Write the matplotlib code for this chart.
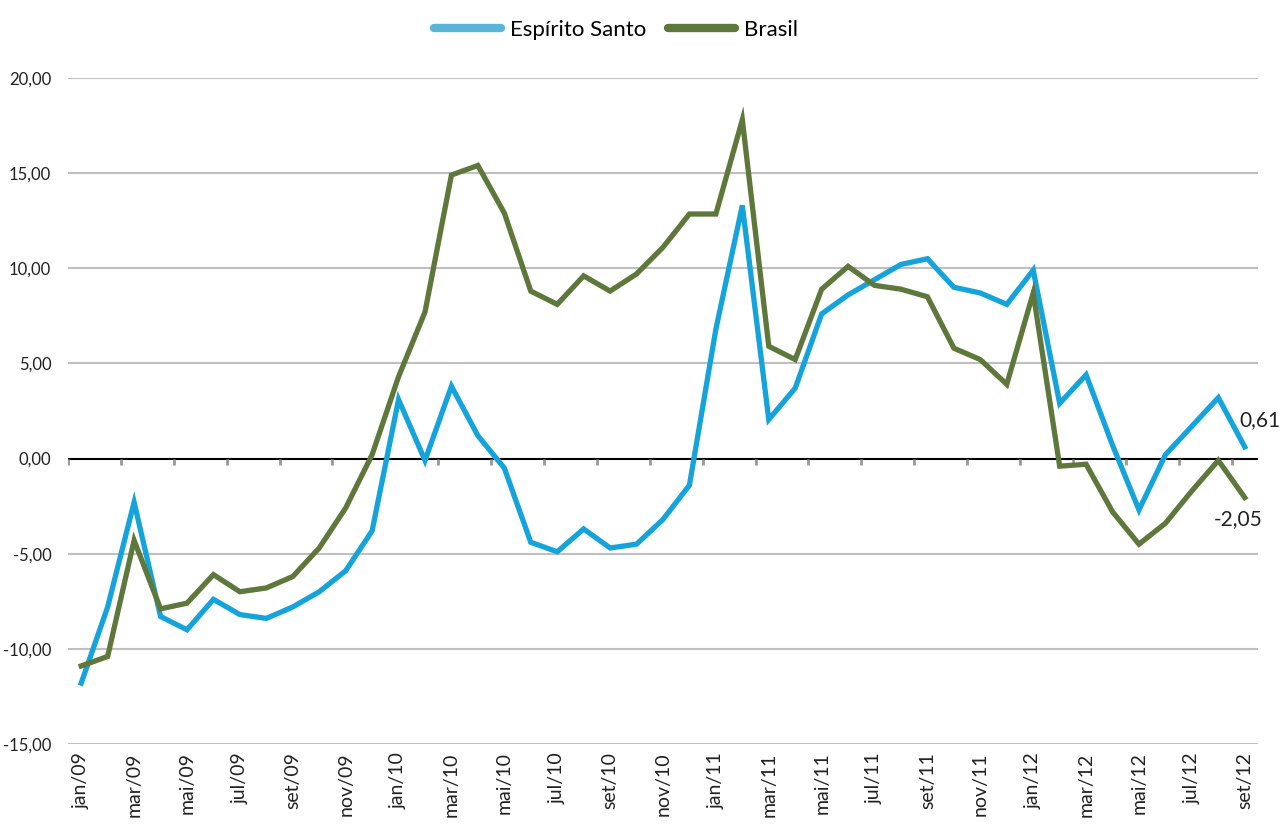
import matplotlib
matplotlib.use("Agg")
import matplotlib.pyplot as plt
import numpy as np

months = ["jan", "fev", "mar", "abr", "mai", "jun", "jul", "ago", "set", "out", "nov", "dez"]
categories = [f"{m}/{y:02d}" for y in (9, 10, 11, 12) for m in months][:45]

espirito_santo = [-11.8, -7.8, -2.3, -8.3, -9.0, -7.4, -8.2, -8.4, -7.8, -7.0, -5.9, -3.8,
                  3.1, -0.1, 3.8, 1.2, -0.5, -4.4, -4.9, -3.7, -4.7, -4.5, -3.2, -1.4,
                  6.8, 13.3, 2.05, 3.7, 7.6, 8.6, 9.4, 10.2, 10.5, 9.0, 8.7, 8.1,
                  9.9, 2.9, 4.4, 0.7, -2.7, 0.2, 1.7, 3.2, 0.61]
brasil = [-10.9, -10.4, -4.3, -7.9, -7.6, -6.1, -7.0, -6.8, -6.2, -4.7, -2.6, 0.2,
          4.3, 7.7, 14.9, 15.4, 12.9, 8.8, 8.1, 9.6, 8.8, 9.7, 11.1, 12.85,
          12.85, 17.8, 5.9, 5.2, 8.9, 10.1, 9.1, 8.9, 8.5, 5.8, 5.2, 3.9,
          8.7, -0.4, -0.3, -2.8, -4.5, -3.4, -1.7, -0.1, -2.05]
y_ticks = [-15, -10, -5, 0, 5, 10, 15, 20]

plt.rcParams['font.family'] = ['Lato', 'DejaVu Sans']

blue = "#15A3DC"
green = "#5E783B"

fig = plt.figure(figsize=(12.83, 8.32), dpi=100)
ax = fig.add_axes([0.053, 0.1058, 0.9275, 0.8005])

x = np.arange(len(categories))
for yt in y_ticks:
    if yt != 0:
        ax.axhline(yt, color="#BFBFBF", lw=1.5, zorder=1)
ax.axhline(0, color="black", lw=1.5, zorder=2)
ax.vlines(np.arange(-0.5, len(categories), 2), -0.35, 0, color="#999999", lw=2, zorder=2)

ax.plot(x, espirito_santo, color=blue, lw=3.8, solid_joinstyle="miter", label="Espírito Santo", zorder=3)
ax.plot(x, brasil, color=green, lw=3.8, solid_joinstyle="miter", label="Brasil", zorder=4)

ax.set_xlim(-0.5, len(categories) - 0.5)
ax.set_ylim(-15, 20)
ax.set_yticks(y_ticks)
ax.set_yticklabels([f"{v:.2f}".replace(".", ",") for v in y_ticks], fontsize=12, color="#222222")
ax.set_xticks(x[::2])
ax.set_xticklabels(categories[::2], rotation=90, fontsize=14, color="#222222")
ax.tick_params(axis="both", length=0)
ax.tick_params(axis="y", pad=12)
ax.tick_params(axis="x", pad=6)
for s in ax.spines.values():
    s.set_visible(False)

ax.annotate(f"{espirito_santo[-1]:.2f}".replace(".", ","), (x[-1], espirito_santo[-1]),
            xytext=(-4, 12), textcoords="offset points", fontsize=15, color="#222222",
            ha="left", va="bottom")
ax.annotate(f"{brasil[-1]:.2f}".replace(".", ","), (x[-1], brasil[-1]),
            xytext=(-22, -8), textcoords="offset points", fontsize=15, color="#222222",
            ha="left", va="top")

leg = fig.legend(loc="upper center", bbox_to_anchor=(0.48, 1.0), ncol=2, frameon=False,
                 fontsize=16, handlelength=3.0, columnspacing=1.0, handletextpad=0.4)
leg.get_lines()[0].set_color("#58B5D8")
for line in leg.get_lines():
    line.set_linewidth(6)
    line.set_solid_capstyle("round")

fig.savefig("out.png", dpi=100)
